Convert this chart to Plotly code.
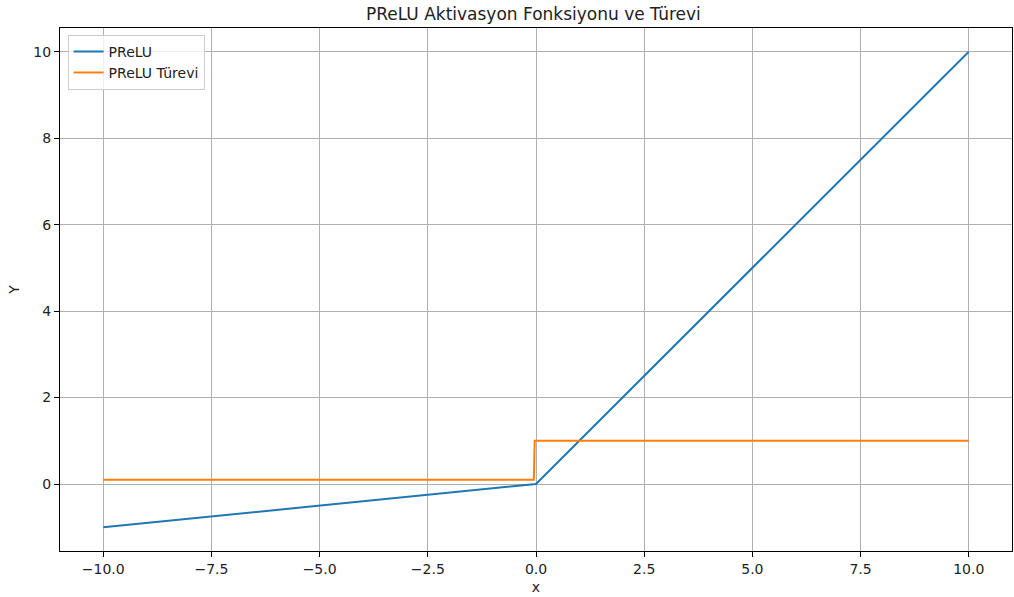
import plotly.graph_objects as go

# PReLU (alpha = 0.1) breakpoints
x_prelu = [-10.0, 0.0, 10.0]
y_prelu = [-1.0, 0.0, 10.0]

# derivative: alpha for x < 0, 1 for x >= 0
x_deriv = [-10.0, -0.05, -0.03, 10.0]
y_deriv = [0.1, 0.1, 1.0, 1.0]

x_ticks = [-10.0, -7.5, -5.0, -2.5, 0.0, 2.5, 5.0, 7.5, 10.0]
y_ticks = [0, 2, 4, 6, 8, 10]

font = "DejaVu Sans"

fig = go.Figure()
fig.add_trace(go.Scatter(x=x_prelu, y=y_prelu, mode="lines", name="PReLU",
                         line=dict(color="#1f77b4", width=2)))
fig.add_trace(go.Scatter(x=x_deriv, y=y_deriv, mode="lines", name="PReLU Türevi",
                         line=dict(color="#ff7f0e", width=2)))

axis_common = dict(
    showgrid=True, gridcolor="#b0b0b0", gridwidth=1,
    showline=True, linecolor="black", linewidth=1, mirror=True,
    ticks="outside", ticklen=5, tickcolor="black", tickwidth=1,
    zeroline=False, tickfont=dict(family=font, size=14, color="#222"),
)

fig.update_layout(
    width=1014, height=597,
    margin=dict(l=60, r=2, t=28, b=46),
    paper_bgcolor="white", plot_bgcolor="white",
    title=dict(text="PReLU Aktivasyon Fonksiyonu ve Türevi", x=0.526, xanchor="center",
               y=0.987, yanchor="top", font=dict(family=font, size=17, color="#222")),
    xaxis=dict(range=[-11, 11], tickvals=x_ticks,
               ticktext=[f"{v:.1f}".replace("-", "\u2212") for v in x_ticks],
               title=dict(text="x", font=dict(family=font, size=14, color="#222"), standoff=6),
               **axis_common),
    yaxis=dict(range=[-1.55, 10.55], tickvals=y_ticks,
               title=dict(text="Y", font=dict(family=font, size=14, color="#222"), standoff=10),
               **axis_common),
    legend=dict(x=0.008, y=0.987, xanchor="left", yanchor="top",
                bgcolor="rgba(255,255,255,0.8)", bordercolor="#cccccc", borderwidth=1,
                font=dict(family=font, size=14, color="#222"), itemwidth=30,
                tracegroupgap=0),
    showlegend=True,
)

fig.write_html("out.html")
